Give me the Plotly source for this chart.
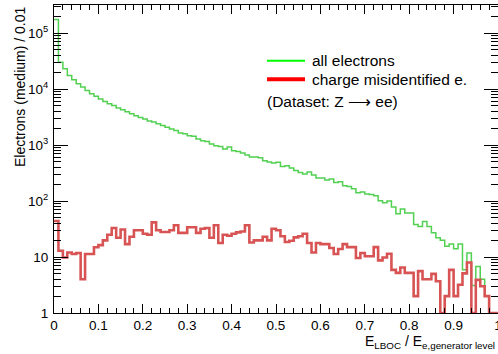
import plotly.graph_objects as go

# ---------------- data ----------------
bin_width = 0.01
n_bins = 100

all_electrons = [
    1.74e5, 3.0e4, 2.3e4, 1.74e4, 1.47e4, 1.24e4, 1.09e4, 9.4e3, 8.2e3, 7.4e3,
    6.6e3, 6.0e3, 5.46e3, 5.1e3, 4.57e3, 4.27e3, 3.94e3, 3.63e3, 3.33e3, 3.1e3,
    2.91e3, 2.69e3, 2.57e3, 2.4e3, 2.24e3, 2.07e3, 1.93e3, 1.82e3, 1.63e3, 1.59e3,
    1.47e3, 1.43e3, 1.28e3, 1.19e3, 1.15e3, 1.04e3, 973, 944, 850, 920,
    791, 769, 719, 662, 611, 611, 593, 525, 497, 478,
    490, 415, 427, 388, 352, 324, 302, 330, 290, 257,
    257, 237, 246, 214, 221, 188, 182, 166, 141, 145,
    133, 130, 124, 101, 93, 100, 78, 59, 72, 61,
    61, 38, 35, 43, 35, 27, 22, 20, 15.5, 17,
    14, 17, 5.9, 11.8, 3.1, 6.8, 4, 2, 1, 1,
]

charge_misid = [
    44, 12.9, 9.8, 12, 11.3, 11.8, 4, 11.3, 11.3, 14.9,
    16.3, 19.8, 25, 33, 22, 31, 17, 23, 30, 30,
    26, 25, 41.5, 30, 28, 28, 30, 37, 27, 27,
    34, 34, 27, 32, 33, 22, 37, 17.8, 25, 24,
    26, 27.5, 28.6, 37, 18.2, 19.8, 19.8, 23, 19.8, 32,
    30, 23.4, 18.5, 19.5, 22.4, 23.4, 26, 17.8, 12, 17.8,
    17, 17, 14.5, 11.3, 13.9, 17, 15, 15, 9.6, 11.8,
    10.3, 10.3, 15, 8.7, 9.8, 11.4, 5.9, 5.2, 6.5, 5.2,
    5.2, 2, 5.6, 4, 4, 5, 3.7, 1, 2, 5.9,
    2, 3.2, 5.1, 8, 1, 3.9, 3, 2, 1, 1,
]

x_tick_vals = [0, 0.1, 0.2, 0.3, 0.4, 0.5, 0.6, 0.7, 0.8, 0.9, 1.0]
x_tick_text = ["0", "0.1", "0.2", "0.3", "0.4", "0.5", "0.6", "0.7", "0.8", "0.9", "1"]
y_tick_vals = [1, 10, 100, 1000, 10000, 100000]
y_tick_text = ["1", "10", "10<sup>2</sup>", "10<sup>3</sup>", "10<sup>4</sup>", "10<sup>5</sup>"]

legend_labels = ["all electrons", "charge misidentified e."]
dataset_label = "(Dataset: Z \u27f6 ee)"
x_title = "E<sub>LBOC</sub> / E<sub>e,generator level</sub>"
y_title = "Electrons (medium) / 0.01"

# ---------------- figure ----------------
edges = [round(i * bin_width, 4) for i in range(n_bins + 1)]

W, H = 498, 354
ML, MR, MT, MB = 54, 0, 5, 41
PW, PH = W - ML - MR, H - MT - MB


def px(xp):
    return (xp - ML) / PW


def py(yp):
    return (H - MB - yp) / PH


fig = go.Figure()
fig.add_trace(go.Scatter(
    x=edges, y=all_electrons + [all_electrons[-1]], mode="lines",
    line=dict(shape="hv", color="#52d052", width=1.5),
    showlegend=False, hoverinfo="skip"))
fig.add_trace(go.Scatter(
    x=edges, y=charge_misid + [charge_misid[-1]], mode="lines",
    line=dict(shape="hv", color="#d85454", width=2.6),
    showlegend=False, hoverinfo="skip"))

font_main = "Liberation Sans, Arial, sans-serif"

fig.update_layout(
    width=W, height=H,
    margin=dict(l=ML, r=MR, t=MT, b=MB, pad=0),
    paper_bgcolor="white", plot_bgcolor="white",
    showlegend=False,
    font=dict(family=font_main, size=13, color="black"),
)
fig.update_xaxes(
    range=[0, 1], showgrid=False, zeroline=False,
    showline=True, linecolor="black", linewidth=1, mirror="allticks",
    ticks="inside", ticklen=9, tickcolor="black", tickwidth=1,
    tickvals=x_tick_vals, ticktext=x_tick_text,
    minor=dict(ticks="inside", ticklen=5, dtick=0.02, tickcolor="black", showgrid=False),
    tickfont=dict(size=13.5), ticklabelstandoff=0, automargin=False,
    ticklabeloverflow="allow",
)
fig.update_yaxes(
    type="log", range=[0, 5.5], showgrid=False, zeroline=False,
    showline=True, linecolor="black", linewidth=1, mirror="allticks",
    ticks="inside", ticklen=14, tickcolor="black", tickwidth=1,
    tickvals=y_tick_vals, ticktext=y_tick_text,
    minor=dict(ticks="inside", ticklen=7, dtick="D1", tickcolor="black", showgrid=False),
    tickfont=dict(size=13.5), ticklabelstandoff=2, automargin=False,
)

# axis titles
fig.add_annotation(text=y_title, xref="paper", yref="paper", x=px(20), y=1.0,
                   xanchor="center", yanchor="top", textangle=-90, showarrow=False,
                   font=dict(size=14, family=font_main))
fig.add_annotation(text=x_title, xref="paper", yref="paper", x=px(497), y=py(342),
                   xanchor="right", yanchor="middle", showarrow=False,
                   font=dict(size=14, family=font_main))

# legend
leg_colors = ["#00ff00", "#ff0000"]
leg_widths = [2, 4]
leg_y = [60.7, 79.3]
for lab, c, w, yy in zip(legend_labels, leg_colors, leg_widths, leg_y):
    fig.add_shape(type="line", xref="paper", yref="paper",
                  x0=px(267), x1=px(305), y0=py(yy), y1=py(yy),
                  line=dict(color=c, width=w))
    fig.add_annotation(text=lab, xref="paper", yref="paper", x=px(310), y=py(yy),
                       xanchor="left", yanchor="middle", showarrow=False,
                       font=dict(size=15.5, family=font_main))
fig.add_annotation(text=dataset_label, xref="paper", yref="paper", x=px(265), y=py(101),
                   xanchor="left", yanchor="middle", showarrow=False,
                   font=dict(size=15.5, family=font_main))

fig.write_html("out.html")
